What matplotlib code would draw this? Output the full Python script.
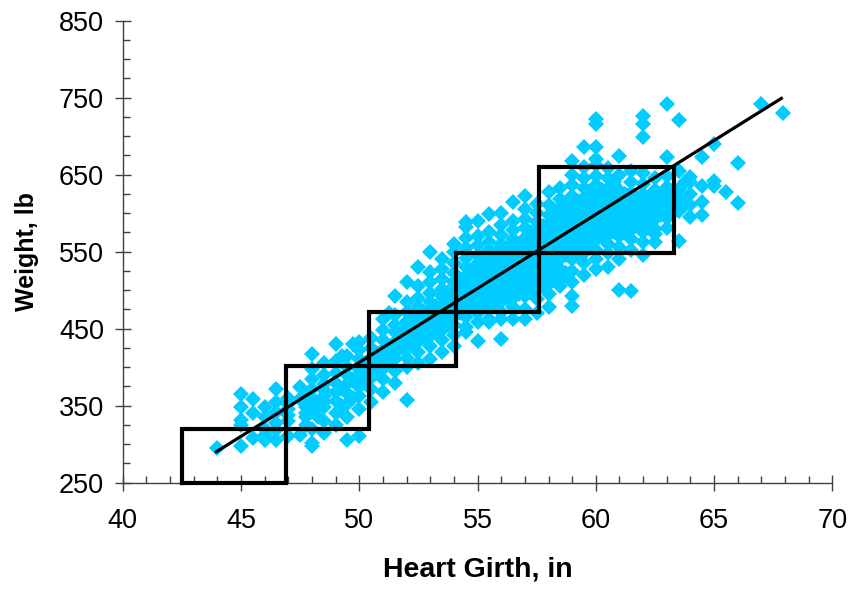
import matplotlib
matplotlib.use('Agg')
import matplotlib.pyplot as plt

# Arial look-alike.
plt.rcParams['font.family'] = ['Liberation Sans', 'DejaVu Sans']

# Heart girth (in) levels and the weights (lb) seen at each level.
girth_levels = [44.0, 45.0, 45.5, 46.0, 46.5, 47.0, 47.5, 47.75, 48.0, 48.25,
                48.5, 49.0, 49.25, 49.5, 49.75, 50.0, 50.25, 50.5, 50.75,
                51.0, 51.25, 51.5, 51.75, 52.0, 52.25, 52.5, 52.75, 53.0,
                53.25, 53.5, 53.75, 54.0, 54.25, 54.5, 54.75, 55.0, 55.25,
                55.5, 55.75, 56.0, 56.25, 56.5, 56.75, 57.0, 57.25, 57.5,
                57.75, 58.0, 58.25, 58.5, 58.75, 59.0, 59.25, 59.5, 59.75,
                60.0, 60.25, 60.5, 60.75, 61.0, 61.25, 61.5, 61.75, 62.0,
                62.25, 62.5, 62.75, 63.0, 63.25, 63.5, 63.75, 64.0, 64.5,
                65.0, 65.5, 66.0, 67.0, 67.9]
weights_by_girth = [
    [295],
    [297, 325, 332, 348, 365],
    [308, 358, 340],
    [305, 320, 335, 348, 312],
    [306, 342, 355, 371, 328, 318],
    [310, 330, 345, 360, 338, 352],
    [312, 358, 374],
    [340, 365, 325, 348, 335],
    [297, 302, 320, 345, 360, 372, 385, 398, 417],
    [335, 352],
    [315, 330, 348, 362, 378, 390, 405, 370, 355],
    [325, 340, 356, 368, 380, 392, 408, 430],
    [414, 372, 350],
    [306, 335, 352, 366, 378, 390, 400, 415],
    [385, 360, 430],
    [310, 345, 362, 374, 388, 398, 410, 422, 432],
    [380, 395, 405],
    [355, 372, 386, 400, 412, 425, 438],
    [395, 405, 418],
    [368, 385, 398, 410, 422, 435, 448, 462],
    [415, 428, 405, 470],
    [380, 395, 410, 420, 432, 445, 455, 468, 492],
    [438, 425, 450],
    [357, 400, 412, 425, 436, 448, 460, 472, 485, 510],
    [440, 455, 430, 465],
    [405, 420, 432, 445, 455, 466, 478, 490, 505, 530],
    [450, 462, 440, 472],
    [410, 428, 440, 452, 462, 474, 485, 496, 510, 523, 549],
    [458, 468, 480, 445],
    [420, 435, 448, 458, 470, 480, 492, 502, 515, 528, 540],
    [465, 475, 488, 455, 498],
    [428, 442, 455, 466, 478, 488, 498, 510, 522, 535, 550, 560],
    [470, 482, 494, 505, 515],
    [445, 452, 465, 476, 486, 496, 508, 518, 530, 542, 555, 568, 582, 589],
    [480, 492, 502, 512, 525],
    [434, 458, 470, 482, 492, 502, 514, 524, 535, 546, 558, 570, 590],
    [488, 498, 508, 518, 530, 478],
    [458, 462, 476, 488, 498, 508, 520, 530, 541, 552, 563, 575, 599],
    [495, 505, 515, 526, 537, 548, 485],
    [436, 462, 472, 485, 496, 506, 516, 527, 538, 548, 560, 572, 585, 600],
    [502, 512, 522, 533, 545, 555, 490],
    [462, 478, 490, 502, 512, 522, 533, 544, 555, 566, 578, 590, 614],
    [508, 518, 528, 540, 550, 560, 495],
    [462, 475, 492, 505, 515, 526, 537, 548, 558, 568, 580, 592, 605, 622],
    [510, 520, 532, 542, 553, 563, 575, 498],
    [470, 488, 500, 512, 523, 534, 545, 556, 566, 577, 588, 600, 612],
    [518, 528, 540, 550, 560, 572, 583, 506],
    [478, 495, 508, 520, 532, 543, 554, 565, 576, 587, 598, 610, 627],
    [525, 537, 548, 560, 570, 582, 592, 604, 515],
    [505, 515, 528, 540, 551, 562, 573, 584, 595, 606, 618, 632],
    [545, 556, 567, 578, 590, 600, 612, 522],
    [479, 492, 510, 525, 540, 552, 564, 575, 586, 598, 610, 622, 636, 650,
     667],
    [558, 570, 580, 592, 604, 616, 545],
    [520, 535, 548, 560, 572, 584, 596, 608, 620, 632, 645, 660, 686],
    [565, 578, 590, 602, 614, 626, 555],
    [527, 540, 552, 565, 578, 590, 600, 612, 624, 636, 648, 662, 670, 686,
     716, 722],
    [570, 584, 596, 606, 618, 630],
    [530, 548, 560, 572, 584, 596, 608, 620, 632, 645, 658],
    [575, 590, 602, 614, 626, 640],
    [500, 540, 556, 570, 582, 594, 606, 618, 630, 649, 674],
    [578, 590, 602, 612, 625],
    [499, 552, 566, 578, 590, 602, 614, 626, 640, 655],
    [585, 596, 608, 620],
    [545, 562, 575, 588, 600, 612, 625, 638, 652, 699, 716, 726],
    [580, 595, 606, 618],
    [562, 573, 579, 592, 604, 616, 630, 645],
    [598, 610, 622],
    [580, 594, 606, 620, 634, 648, 673, 741],
    [600, 614, 628],
    [564, 603, 621, 631, 654, 721],
    [610, 640],
    [595, 610, 625, 640, 647],
    [598, 615, 635, 673],
    [635, 642, 690],
    [627],
    [613, 665],
    [742],
    [730],
]

# Regression line end points.
fit_girth = [43.9, 67.9]
fit_weight = [289, 750]

# Staircase of boxes: box i spans edges i..i+1 on both axes.
box_girth = [42.5, 46.9, 50.4, 54.1, 57.6, 63.3]
box_weight = [250, 320, 402, 472, 548, 660]

# Axis ticks.
x_major = [40, 45, 50, 55, 60, 65, 70]
y_major = [250, 350, 450, 550, 650, 750, 850]

girth = []
weight = []
for g, ws in zip(girth_levels, weights_by_girth):
    girth += [g] * len(ws)
    weight += ws

fig = plt.figure(figsize=(8.52, 5.91), dpi=100)
ax = fig.add_axes([0.144, 0.1833, 0.833, 0.782])

ax.plot(girth, weight, 'D', color='#00CCFF', ms=8.5, mew=0, zorder=2)
ax.plot(fit_girth, fit_weight, color='black', lw=2.3,
        solid_capstyle='butt', zorder=3)

for i in range(len(box_girth) - 1):
    x0, x1 = box_girth[i], box_girth[i + 1]
    y0, y1 = box_weight[i], box_weight[i + 1]
    ax.plot([x0, x1, x1, x0, x0], [y0, y0, y1, y1, y0], color='black',
            lw=3, solid_joinstyle='miter', clip_on=False, zorder=4)

ax.set_xlim(40, 70)
ax.set_ylim(250, 850)
ax.set_xticks(x_major)
ax.set_yticks(y_major)
ax.set_xticks(range(40, 71), minor=True)
ax.set_yticks(range(250, 851, 25), minor=True)

for side in ['top', 'right']:
    ax.spines[side].set_visible(False)
for side in ['left', 'bottom']:
    ax.spines[side].set_color('#404040')
    ax.spines[side].set_linewidth(1)

ax.tick_params(which='major', direction='inout', length=11, width=1,
               color='#404040', labelsize=19.5)
ax.tick_params(which='minor', direction='in', length=5, width=1,
               color='#404040')
ax.tick_params(axis='x', which='major', pad=13)
ax.tick_params(axis='y', which='major', pad=8)

ax.set_xlabel('Heart Girth, in', fontsize=20.5, fontweight='bold', labelpad=16)
ax.set_ylabel('Weight, lb', fontsize=18, fontweight='bold', labelpad=14)

fig.savefig('out.png', dpi=100)
